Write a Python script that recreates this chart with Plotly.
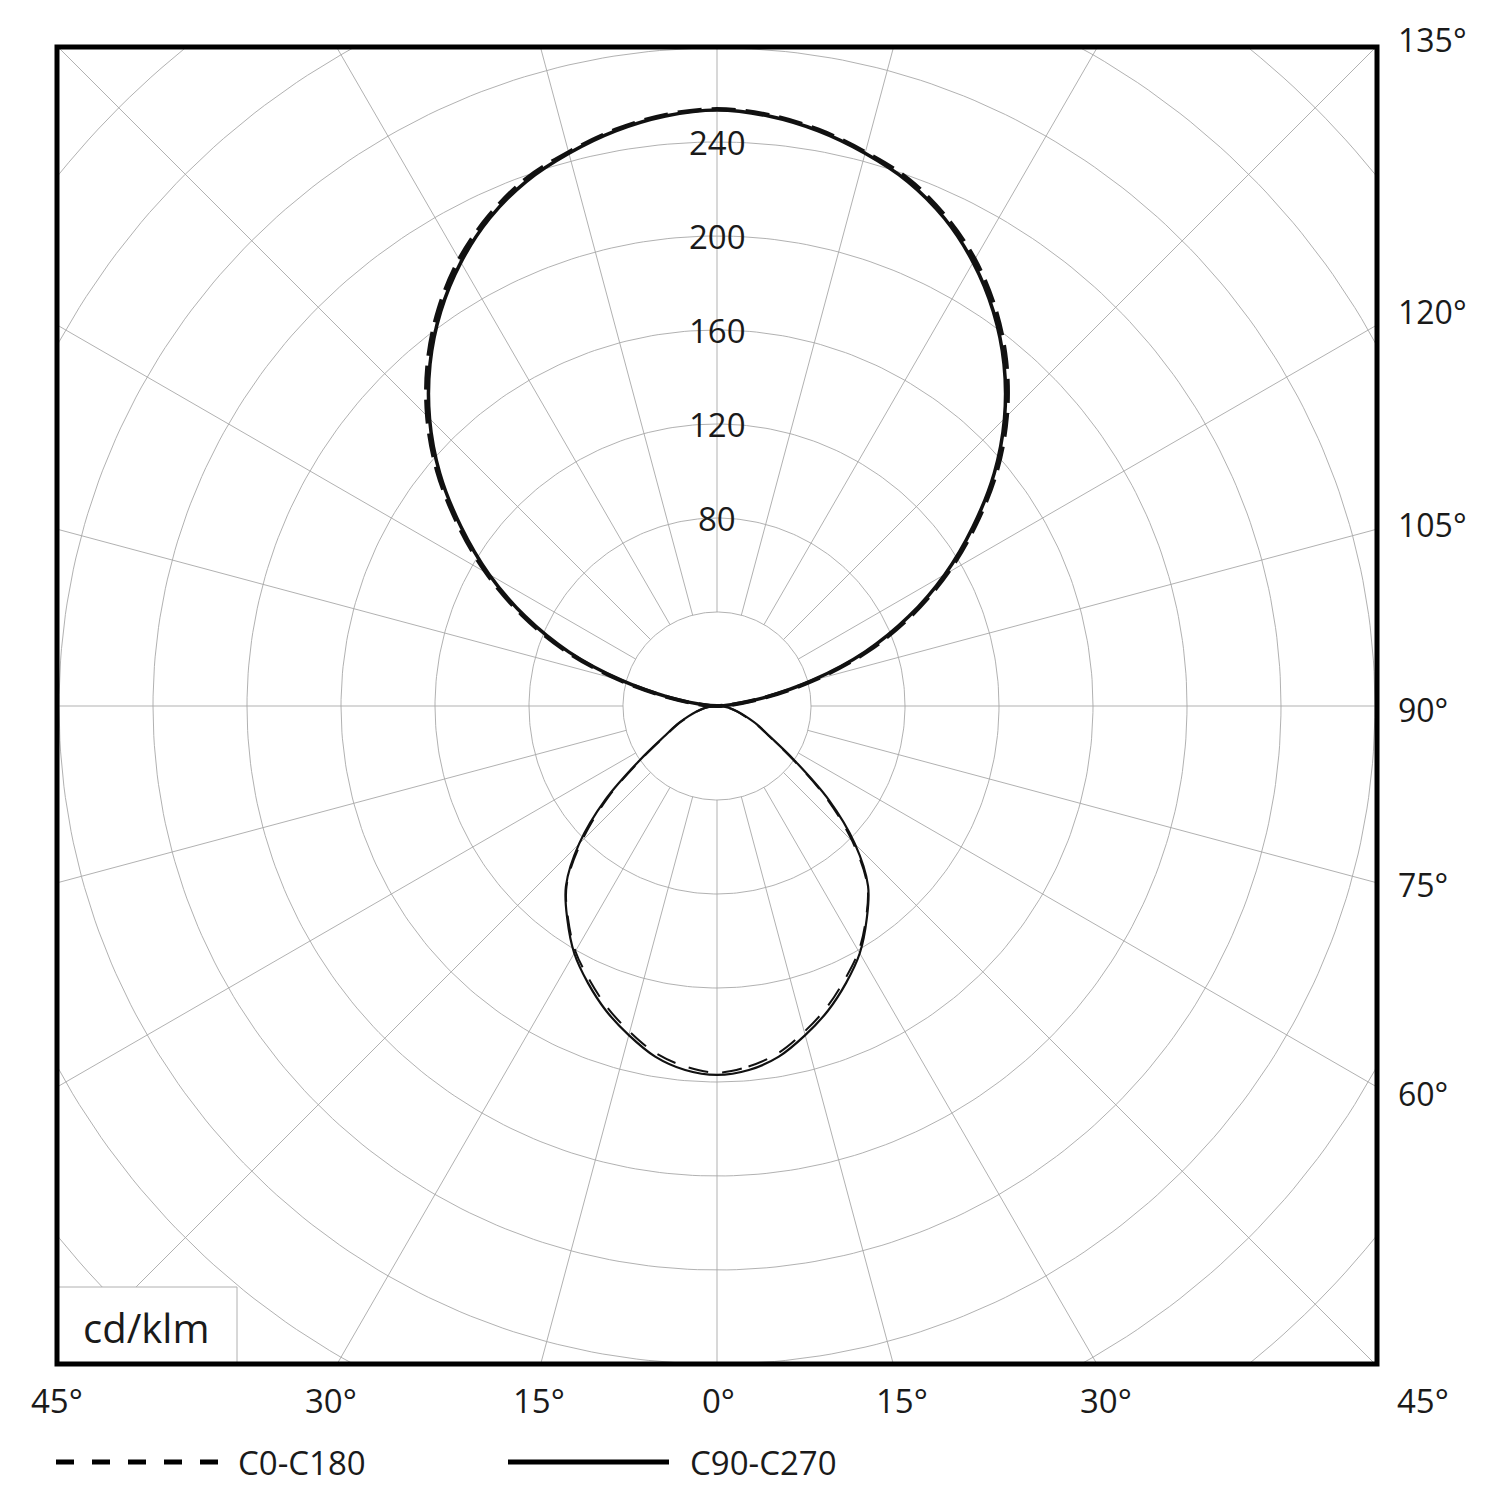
import numpy as np
import plotly.graph_objects as go

# ---------------- data (cd/klm) ----------------
gamma_lower = [0, 5, 10, 15, 20, 25, 30, 35, 40, 45, 50, 55, 60, 65, 70, 75, 80, 85, 90]
c90_c270_lower = [157, 155.5, 151.5, 145, 138, 130, 121.5, 111, 100, 83, 62, 40, 26, 19, 13, 9, 6, 3, 0]
c0_c180_lower = [156, 154, 150, 143.5, 136.5, 128.5, 120.5, 110.5, 99.5, 81.5, 60.5, 39, 25.5, 18.5, 12.5, 8.5, 5.5, 2.5, 0]

gamma_upper = [90, 95, 100, 105, 110, 115, 120, 125, 130, 135, 140, 145, 150, 155, 160, 165, 170, 175, 180]
c90_c270_upper = [0, 6, 20, 42, 67, 90, 112, 133, 154, 173, 190, 205, 218, 229, 237.5, 243.5, 248.5, 252, 253.6]
c0_c180_upper = [0, 6.5, 21, 43.5, 68.5, 91.5, 113.5, 134.5, 155.5, 174.5, 191.5, 206.5, 219.5, 230, 238.5, 244, 249, 252.5, 254]

ring_values = [40, 80, 120, 160, 200, 240, 280, 320, 360]
ring_label_values = [80, 120, 160, 200, 240]
spoke_angles = list(range(0, 360, 15))

bottom_labels = ["45°", "30°", "15°", "0°", "15°", "30°", "45°"]
right_labels = ["135°", "120°", "105°", "90°", "75°", "60°"]
series_names = ["C0-C180", "C90-C270"]
unit_label = "cd/klm"

# ---------------- geometry helpers ----------------
W, H = 1500, 1500
L, R, T, B = 57, 1377, 47, 1364          # plot box in pixels
SCALE = 2.35                              # px per cd/klm
XR = (R - L) / 2 / SCALE
Y_TOP = (706 - T) / SCALE
Y_BOT = (B - 706) / SCALE


def px_x(px):
    return (px - L) / (R - L)


def px_y(py):
    return (B - py) / (B - T)


def lobe_xy(gammas, values):
    g = np.radians(np.array(gammas, dtype=float))
    v = np.array(values, dtype=float)
    xr = v * np.sin(g)
    y = -v * np.cos(g)
    x = np.concatenate([xr, -xr[::-1][1:]])
    yy = np.concatenate([y, y[::-1][1:]])
    return x, yy


fig = go.Figure()

# ---------------- grid ----------------
t = np.radians(np.arange(0, 361, 1.0))
gx, gy = [], []
for r in ring_values:
    gx += list(r * np.cos(t)) + [None]
    gy += list(r * np.sin(t)) + [None]
fig.add_trace(go.Scatter(x=gx, y=gy, mode="lines",
                         line=dict(color="#a8a8a8", width=0.9),
                         hoverinfo="skip", showlegend=False))

sx, sy = [], []
for a in spoke_angles:
    ar = np.radians(a)
    sx += [40 * np.cos(ar), 420 * np.cos(ar), None]
    sy += [40 * np.sin(ar), 420 * np.sin(ar), None]
fig.add_trace(go.Scatter(x=sx, y=sy, mode="lines",
                         line=dict(color="#a8a8a8", width=0.9),
                         hoverinfo="skip", showlegend=False))

# ---------------- curves ----------------
SM = 1.0
x, y = lobe_xy(gamma_lower, c0_c180_lower)
fig.add_trace(go.Scatter(x=x, y=y, mode="lines", name=series_names[0],
                         line=dict(color="#111", width=2, dash="20px,14px",
                                   shape="spline", smoothing=SM),
                         showlegend=False))
x, y = lobe_xy(gamma_upper, c0_c180_upper)
fig.add_trace(go.Scatter(x=x, y=y, mode="lines", name=series_names[0],
                         line=dict(color="#111", width=4, dash="24px,10px",
                                   shape="spline", smoothing=SM),
                         showlegend=False))
x, y = lobe_xy(gamma_lower, c90_c270_lower)
fig.add_trace(go.Scatter(x=x, y=y, mode="lines", name=series_names[1],
                         line=dict(color="#111", width=2.2, shape="spline", smoothing=SM),
                         showlegend=False))
x, y = lobe_xy(gamma_upper, c90_c270_upper)
fig.add_trace(go.Scatter(x=x, y=y, mode="lines", name=series_names[1],
                         line=dict(color="#111", width=3.5, shape="spline", smoothing=SM),
                         showlegend=False))

# ---------------- annotations ----------------
FONT = "Open Sans, Arial, sans-serif"
ann = []
for v in ring_label_values:
    ann.append(dict(x=0, y=v, xref="x", yref="y", text=str(v), showarrow=False,
                    xanchor="center", yanchor="middle",
                    font=dict(family=FONT, size=33, color="#1a1a1a")))

bottom_px = [57, 331, 539, 719, 902, 1106, 1423]
for lab, px in zip(bottom_labels, bottom_px):
    ann.append(dict(x=px_x(px), y=px_y(1400), xref="paper", yref="paper", text=lab,
                    showarrow=False, xanchor="center", yanchor="middle",
                    font=dict(family=FONT, size=33, color="#1a1a1a")))

right_py = [40, 311, 524, 709, 885, 1093]
for lab, py in zip(right_labels, right_py):
    ann.append(dict(x=px_x(1396), y=px_y(py), xref="paper", yref="paper", text=lab,
                    showarrow=False, xanchor="left", yanchor="middle",
                    font=dict(family=FONT, size=32, color="#1a1a1a")))

ann.append(dict(x=px_x(146), y=px_y(1327), xref="paper", yref="paper", text=unit_label,
                showarrow=False, xanchor="center", yanchor="middle",
                font=dict(family=FONT, size=40, color="#1a1a1a")))

ann.append(dict(x=px_x(236), y=px_y(1462), xref="paper", yref="paper", text=series_names[0],
                showarrow=False, xanchor="left", yanchor="middle",
                font=dict(family=FONT, size=33, color="#1a1a1a")))
ann.append(dict(x=px_x(688), y=px_y(1462), xref="paper", yref="paper", text=series_names[1],
                showarrow=False, xanchor="left", yanchor="middle",
                font=dict(family=FONT, size=33, color="#1a1a1a")))

# ---------------- shapes ----------------
shapes = [
    # unit box
    dict(type="rect", xref="paper", yref="paper", x0=0, x1=px_x(237), y0=0, y1=px_y(1287),
         fillcolor="white", line=dict(color="#b0b0b0", width=1), layer="above"),
    # outer frame
    dict(type="rect", xref="paper", yref="paper", x0=0, x1=1, y0=0, y1=1,
         line=dict(color="black", width=5), layer="above"),
    # legend samples
    dict(type="line", xref="paper", yref="paper", x0=px_x(56), x1=px_x(218),
         y0=px_y(1462), y1=px_y(1462), line=dict(color="black", width=5, dash="18px,18px")),
    dict(type="line", xref="paper", yref="paper", x0=px_x(508), x1=px_x(669),
         y0=px_y(1462), y1=px_y(1462), line=dict(color="black", width=5)),
]

fig.update_layout(
    width=W, height=H,
    margin=dict(l=L, r=W - R, t=T, b=H - B, pad=0),
    paper_bgcolor="white", plot_bgcolor="white",
    xaxis=dict(range=[-XR, XR], visible=False, showgrid=False, zeroline=False, fixedrange=True),
    yaxis=dict(range=[-Y_BOT, Y_TOP], visible=False, showgrid=False, zeroline=False, fixedrange=True),
    annotations=ann, shapes=shapes, showlegend=False,
)

fig.write_html("out.html")
